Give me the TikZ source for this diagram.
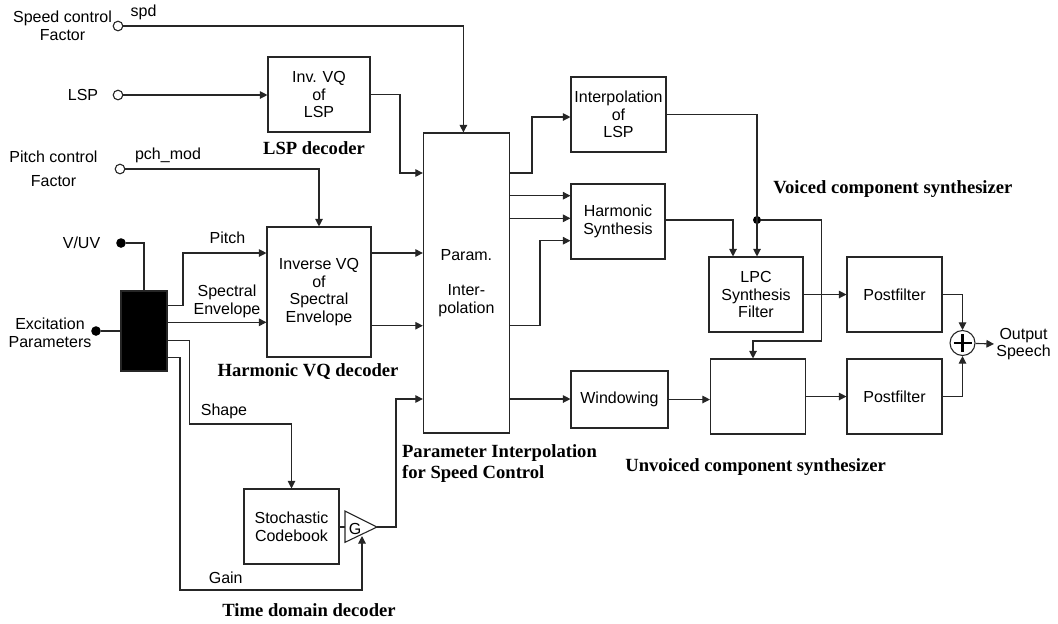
\documentclass[tikz,border=0pt]{standalone}
\usepackage{fontspec}
\setmainfont{Liberation Sans}
\newfontfamily\serifbold{Liberation Serif}
\usetikzlibrary{arrows.meta}

\begin{document}
\begin{tikzpicture}[x=0.5pt, y=-0.5pt, font=\fontsize{8}{8.8}\selectfont,
  wire/.style={draw=black!85, line width=0.55pt},
  arr/.style={wire, -{Triangle[length=3.8pt,width=3.8pt]}},
  block/.style={wire, inner sep=1pt, align=center},
  term/.style={circle, draw=black!85, line width=0.55pt, fill=white, inner sep=0pt, minimum size=4.8pt},
  junct/.style={circle, fill=black, inner sep=0pt, minimum size=4.8pt},
  lbl/.style={align=center, inner sep=1pt},
  grouplbl/.style={font=\serifbold\bfseries\fontsize{9.3}{10.7}\selectfont, inner sep=0pt}]
\useasboundingbox (0,0) rectangle (1058,623);

% inputs
\node[term] (spd) at (118,26) {};
\node[lbl] (spdtxt) at (62.5,25.5) {Speed control\\Factor};
\node[lbl] (spdlbl) at (143.5,12.5) {spd};
\node[term] (lsp) at (118,95) {};
\node[lbl] (lsptxt) at (83,95) {LSP};
\node[term] (pch) at (120,169) {};
\node[lbl] (pchtxt) at (53.5,169) {Pitch control\\[3pt]Factor};
\node[lbl] (pchlbl) at (168,155) {pch\_mod};
\node[junct] (vuv) at (121,243) {};
\node[lbl] (vuvtxt) at (81.5,243) {V/UV};
\node[junct] (exc) at (96,331) {};
\node[lbl] (exctxt) at (50,333) {Excitation\\Parameters};

% blocks
\node[block, minimum width=51pt, minimum height=37.5pt] (invlsp) at (319,94.5) {Inv. VQ\\of\\LSP};
\node[block, minimum width=52pt, minimum height=65pt] (invspec) at (319,292) {Inverse VQ\\of\\Spectral\\Envelope};
\node[block, fill=black, minimum width=23pt, minimum height=40pt] (demux) at (144,331) {};
\node[block, minimum width=47.5pt, minimum height=37.5pt] (codebook) at (291.5,526.5) {Stochastic\\Codebook};
\node[block, minimum width=43pt, minimum height=150pt] (param) at (466.4,283) {Param.\\[8.8pt]Inter-\\polation};
\node[block, minimum width=47.5pt, minimum height=37.5pt] (interplsp) at (618.5,114.5) {Interpolation\\of\\LSP};
\node[block, minimum width=47pt, minimum height=37.5pt] (harm) at (618,221.5) {Harmonic\\Synthesis};
\node[block, minimum width=48.5pt, minimum height=28.5pt] (window) at (619.5,399.5) {Windowing};
\node[block, minimum width=47pt, minimum height=37.5pt] (lpc) at (756,294.5) {LPC\\Synthesis\\Filter};
\node[block, minimum width=47.5pt, minimum height=37.5pt] (unv) at (758,396.5) {};
\node[block, minimum width=47.5pt, minimum height=37.5pt] (post1) at (894.5,294.5) {Postfilter};
\node[block, minimum width=47.5pt, minimum height=37.5pt] (post2) at (894.5,396.5) {Postfilter};
\node[circle, wire, inner sep=0pt, minimum size=12.5pt] (sum) at (962.5,343) {};
\draw[line width=1.4pt] ([xshift=-4.5pt]sum.center) -- ([xshift=4.5pt]sum.center);
\draw[line width=1.4pt] ([yshift=-4.5pt]sum.center) -- ([yshift=4.5pt]sum.center);
\node[lbl, anchor=west] (outtxt) at (994,344) {Output\\Speech};
\node[junct, minimum size=4pt] (split) at (757,220) {};

% gain amplifier
\draw[wire] (345,511) -- (377,527) -- (345,542.3) -- cycle;
\coordinate (gin) at (345,527);
\coordinate (gout) at (377,527);
\coordinate (gbot) at (362,536);
\node[lbl] (glbl) at (355,529) {G};

% other labels
\node[lbl] (pitchlbl) at (227.5,238) {Pitch};
\node[lbl] (speclbl) at (227,301.5) {Spectral\\Envelope};
\node[lbl] (shapelbl) at (224,411.7) {Shape};
\node[lbl] (gainlbl) at (225.7,577.7) {Gain};
\node[grouplbl] (lspdec) at (314,148) {LSP decoder};
\node[grouplbl] (harmdec) at (308,372) {Harmonic VQ decoder};
\node[grouplbl, align=left, anchor=west] (paramdec) at (401.7,463.4) {Parameter Interpolation\\for Speed Control};
\node[grouplbl, anchor=west] (vdec) at (773,189) {Voiced component synthesizer};
\node[grouplbl, anchor=west] (unvdec) at (625,467) {Unvoiced component synthesizer};
\node[grouplbl] (timedec) at (309,610) {Time domain decoder};

% connectors on the left
\draw[arr] (spd) -| ([xshift=-1.5pt]param.north);
\draw[arr] (lsp) -- (lsp -| invlsp.west);
\draw[arr] (invlsp.east) -| (400,173) -- (param.west |- 0,173);
\draw[arr] (pch) -| (invspec.north);
\draw[wire] (vuv) -| (demux.north);
\draw[wire] (exc) -- (demux.west);
\draw[arr] (demux.east |- 0,305.7) -| (183,253) -- (invspec.west |- 0,253);
\draw[arr] (demux.east |- 0,322.3) -- (invspec.west |- 0,322.3);
\draw[arr] (demux.east |- 0,340.7) -| (189.5,424) -| (codebook.north);
\draw[arr] (demux.east |- 0,357.3) -| (180,590) -| (gbot);
\draw[wire] (codebook.east |- gin) -- (gin);
\draw[arr] (gout) -| (396,399) -- (param.west |- 0,399);
\draw[arr] (invspec.east |- 0,253) -- (param.west |- 0,253);
\draw[arr] (invspec.east |- 0,325.7) -- (param.west |- 0,325.7);

% connectors on the right
\draw[arr] (param.east |- 0,173) -| (532,117) -- (interplsp.west |- 0,117);
\draw[arr] (param.east |- 0,195.7) -- (harm.west |- 0,195.7);
\draw[arr] (param.east |- 0,218.3) -- (harm.west |- 0,218.3);
\draw[arr] (param.east |- 0,325.7) -| (540,240.7) -- (harm.west |- 0,240.7);
\draw[arr] (param.east |- 0,399) -- (window.west |- 0,399);
\draw[arr] (interplsp.east) -| (split.center) -- (split.center |- lpc.north);
\draw[arr] (harm.east |- split) -| (733,0 |- lpc.north);
\draw[arr] (split) -| (821.5,341) -| (753,0 |- unv.north);
\draw[arr] (window.east) -- (unv.west |- window.east);
\draw[arr] (lpc) -- (post1);
\draw[arr] (unv) -- (post2);
\draw[arr] (post1.east) -| (sum.north);
\draw[arr] (post2.east) -| (sum.south);
\draw[arr] (sum) -- (outtxt.west);
\end{tikzpicture}
\end{document}
